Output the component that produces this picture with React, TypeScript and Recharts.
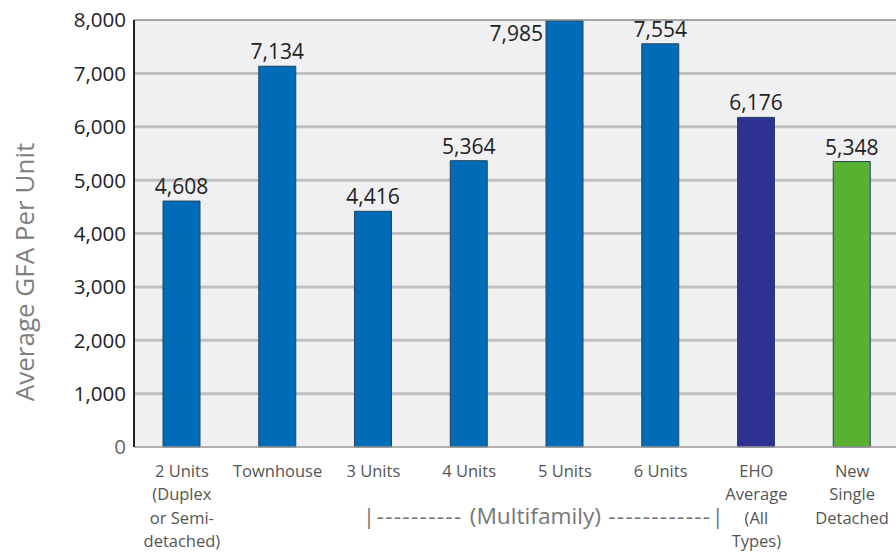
import React from "react";
import {
  BarChart,
  Bar,
  XAxis,
  YAxis,
  CartesianGrid,
  Cell,
  LabelList,
  ReferenceLine,
} from "recharts";

const categories = [
  "2 Units\n(Duplex\nor Semi-\ndetached)",
  "Townhouse",
  "3 Units",
  "4 Units",
  "5 Units",
  "6 Units",
  "EHO\nAverage\n(All\nTypes)",
  "New\nSingle\nDetached",
];
const gfaValues = [4608, 7134, 4416, 5364, 7985, 7554, 6176, 5348];
const barColors = [
  "#006cb7",
  "#006cb7",
  "#006cb7",
  "#006cb7",
  "#006cb7",
  "#006cb7",
  "#2e3192",
  "#58b130",
];
const yTicks = [0, 1000, 2000, 3000, 4000, 5000, 6000, 7000, 8000];
const gridValues = [1000, 2000, 3000, 4000, 5000, 6000, 7000];

const data = categories.map((name, i) => ({ name, value: gfaValues[i] }));

const FONT = "'Open Sans', 'Noto Sans', sans-serif";

// multi-line category ticks
const CategoryTick = (props: any) => {
  const { x, y, payload } = props;
  const lines = String(payload.value).split("\n");
  return (
    <text x={x} y={y + 22} textAnchor="middle" fill="#555" fontSize={16.5} fontFamily={FONT}>
      {lines.map((l, i) => (
        <tspan key={i} x={x} dy={i === 0 ? 0 : 23.3}>
          {l}
        </tspan>
      ))}
    </text>
  );
};

const YTick = (props: any) => {
  const { x, y, payload } = props;
  return (
    <text
      x={x}
      y={y}
      dy="0.36em"
      textAnchor="end"
      fill={payload.value === 0 ? "#666" : "#222"}
      fontSize={20.5}
      fontFamily={FONT}
    >
      {Number(payload.value).toLocaleString("en-US")}
    </text>
  );
};

// value above each bar, except the tallest which sits to its left
const ValueLabel = (props: any) => {
  const { x, y, width, value } = props;
  const txt = Number(value).toLocaleString("en-US");
  if (value >= 7900) {
    return (
      <text x={x - 3} y={y + 20} textAnchor="end" fill="#222" fontSize={21} fontFamily={FONT}>
        {txt}
      </text>
    );
  }
  return (
    <text x={x + width / 2} y={y - 7} textAnchor="middle" fill="#222" fontSize={21} fontFamily={FONT}>
      {txt}
    </text>
  );
};

const YTitle = () => (
  <text
    x={24}
    y={272}
    transform="rotate(-90 24 272)"
    textAnchor="middle"
    dominantBaseline="central"
    fill="#808080"
    fontSize={26}
    fontFamily={FONT}
  >
    Average GFA Per Unit
  </text>
);

export default function App() {
  return (
    <div
      style={{
        position: "absolute",
        left: 0,
        top: 0,
        width: 896,
        height: 552,
        overflow: "hidden",
        background: "#fff",
        fontFamily: FONT,
      }}
    >
      <BarChart
        width={900}
        height={552}
        data={data}
        margin={{ top: 20, right: 0, left: 0, bottom: 0 }}
        barCategoryGap={0}
      >
        <CartesianGrid
          vertical={false}
          horizontalValues={gridValues}
          stroke="#c0c0c0"
          strokeWidth={3}
          fill="#f0f0f2"
        />
        <ReferenceLine y={8000} stroke="#8a8a8a" strokeWidth={1.5} />
        <XAxis
          dataKey="name"
          interval={0}
          height={105}
          tickLine={false}
          axisLine={{ stroke: "#999", strokeWidth: 1.5 }}
          tick={<CategoryTick />}
        />
        <YAxis
          width={134}
          domain={[0, 8000]}
          ticks={yTicks}
          tickLine={false}
          axisLine={{ stroke: "#222", strokeWidth: 2 }}
          tick={<YTick />}
          label={<YTitle />}
        />
        <Bar dataKey="value" barSize={37} stroke="#23455f" strokeWidth={1} isAnimationActive={false}>
          {data.map((d, i) => (
            <Cell key={d.name} fill={barColors[i]} />
          ))}
          <LabelList dataKey="value" content={<ValueLabel />} />
        </Bar>
      </BarChart>
      <div
        style={{
          position: "absolute",
          left: 544,
          top: 515,
          transform: "translate(-50%, -50%)",
          whiteSpace: "nowrap",
          color: "#777",
          fontSize: 22.7,
        }}
      >
        <span style={{ letterSpacing: 1.3 }}>|---------- </span>
        (Multifamily)
        <span style={{ letterSpacing: 1.3 }}> ------------|</span>
      </div>
    </div>
  );
}
